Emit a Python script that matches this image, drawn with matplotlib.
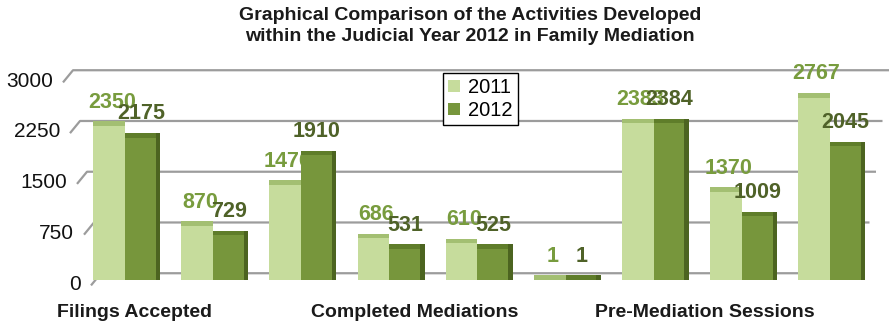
import numpy as np
import matplotlib
matplotlib.use("Agg")
import matplotlib.pyplot as plt
from matplotlib.patches import Patch

# ---------------- data ----------------
groups = list(range(9))
vals_2011 = [2350, 870, 1476, 686, 610, 1, 2383, 1370, 2767]
vals_2012 = [2175, 729, 1910, 531, 525, 1, 2384, 1009, 2045]
labels_2011 = ["2350", "870", "1476", "686", "610", "1", "2383", "1370", "2767"]
labels_2012 = ["2175", "729", "1910", "531", "525", "1", "2384", "1009", "2045"]
series_names = ["2011", "2012"]
yticks = [0, 750, 1500, 2250, 3000]
ytick_labels = ["0", "750", "1500", "2250", "3000"]
xlabels = ["Filings Accepted", "Completed Mediations", "Pre-Mediation Sessions"]
xlabel_pos = [0.11, 3.29, 6.58]
title = ("Graphical Comparison of the Activities Developed\n"
         "within the Judicial Year 2012 in Family Mediation")

# ---------------- style ----------------
c11 = "#c6dc9c"
c11_top = "#a3bf72"
c12 = "#77963c"
c12_top = "#5f7d2a"
c12_side = "#4c6420"
lab11 = "#789c3e"
lab12 = "#4f6228"
grid_col = "#9c9c9c"
FONT = "Liberation Sans"

W, H = 889, 326
fig = plt.figure(figsize=(W / 100, H / 100), dpi=100)
fig.patch.set_facecolor("white")

px0 = 125.0
pstep = 88.1
xl = ((0 - px0) / pstep, (W - px0) / pstep)
ax = fig.add_axes([0, (H - 280) / H, 1, 203 / H])
ax.set_xlim(*xl)
ax.set_ylim(0, 3000)
ax.axis("off")

def px2x(p):
    return (p - px0) / pstep

# gridlines with 3D-like stubs
back = 100
for v in yticks:
    f = v / 3000
    xs = px2x(91 - 28 * f)
    xe = px2x(101 - 28 * f)
    xr = px2x(863 + 26 * f)
    ax.plot([xs, xe, xr], [v - 80, v + back, v + back], color=grid_col,
            lw=1.6, zorder=1, clip_on=False, solid_capstyle="butt")

# tick labels
for v, t in zip(yticks, ytick_labels):
    f = v / 3000
    xr_lab = px2x(81 - 28 * f)
    ax.text(xr_lab, v - 60, t, ha="right", va="center", fontsize=15,
            family=FONT, color="#111111", clip_on=False)

x = np.array(groups, dtype=float)
w = 0.36
off = 0.18
band = 70
sw = 0.05
v11 = np.array(vals_2011, dtype=float)
v12 = np.array(vals_2012, dtype=float)

# 2011 bars
ax.bar(x - off, v11, width=w, color=c11, zorder=2, linewidth=0)
ax.bar(x - off, band, bottom=np.maximum(v11 - band, 0), width=w,
       color=c11_top, zorder=2.1, linewidth=0)
for xi, v, t in zip(x - off, v11, labels_2011):
    ax.annotate(t, (xi + 0.03, max(v, band)), xytext=(0, 6),
                textcoords="offset points", ha="center", va="bottom",
                fontsize=15.5, fontweight="bold", family=FONT, color=lab11,
                zorder=3, annotation_clip=False)

# 2012 bars
ax.bar(x + off, v12, width=w, color=c12, zorder=4, linewidth=0)
ax.bar(x + off, band, bottom=np.maximum(v12 - band, 0), width=w,
       color=c12_top, zorder=4.1, linewidth=0)
ax.bar(x + off + w / 2 + sw / 2 - 0.01, np.maximum(v12, band), width=sw,
       color=c12_side, zorder=4.2, linewidth=0)
for xi, v, t in zip(x + off, v12, labels_2012):
    ax.annotate(t, (xi, max(v, band)), xytext=(0, 6),
                textcoords="offset points", ha="center", va="bottom",
                fontsize=15.5, fontweight="bold", family=FONT, color=lab12,
                zorder=5, annotation_clip=False)

# category labels
for p, t in zip(xlabel_pos, xlabels):
    ax.text(p, -480, t, ha="center", va="center", fontsize=14,
            fontweight="bold", family=FONT, color="#1a1a1a", clip_on=False)

# legend
handles = [Patch(facecolor=c11, edgecolor="none", label=series_names[0]),
           Patch(facecolor=c12, edgecolor="none", label=series_names[1])]
leg = fig.legend(handles=handles, loc="upper left",
                 bbox_to_anchor=(443 / W, 1 - 73 / H), frameon=True,
                 fancybox=False, edgecolor="black", framealpha=1,
                 prop={"family": FONT, "size": 14.5},
                 handlelength=0.6, handleheight=0.6, handletextpad=0.4,
                 borderpad=0.25, labelspacing=0.2, borderaxespad=0)
leg.get_frame().set_linewidth(1.0)

# title
fig.text(470 / W, 1 - 7 / H, title, ha="center", va="top", fontsize=14,
         fontweight="bold", family=FONT, color="#1a1a1a", linespacing=1.3)

fig.savefig("out.png", dpi=100, facecolor="white")
